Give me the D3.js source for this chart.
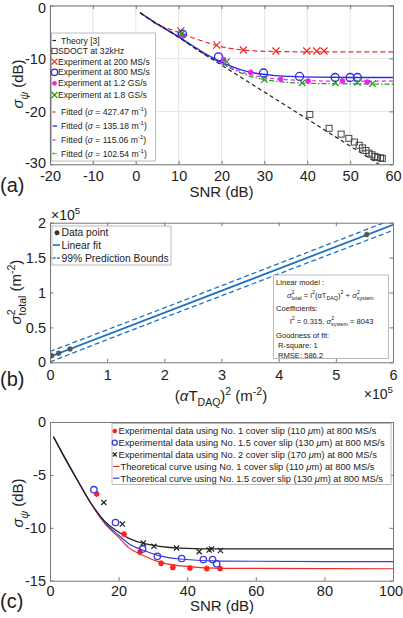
<!DOCTYPE html>
<html><head><meta charset="utf-8">
<script src="https://cdn.jsdelivr.net/npm/d3@7"></script>
<style>
body{margin:0;background:#fff}
text{font-family:"Liberation Sans",Arial,Helvetica,sans-serif;fill:#222}
</style>
</head><body><script>
// ---------------- Panel (a) data ----------------
const aXTicks = [-20,-10,0,10,20,30,40,50,60];
const aXTickLabels = ["-20","-10","0","10","20","30","40","50","60"];
const aYTicks = [0,-10,-20,-30];
const aYTickLabels = ["0","-10","-20","-30"];
const aTheorySNR = [1,3,6,10,15,20,30,40,50,58.5];
const aTheorySig = [-1.35,-2.5,-3.9,-6.0,-8.7,-11.25,-16.35,-21.45,-26.55,-30.9];
const aSdoctSNR = [40.6,45.1,47.9,49.7,51.0,52.1,52.9,53.7,54.4,55.1,55.8,56.4,57.1,57.5];
const aSdoctSig = [-20.6,-23.2,-24.3,-25.1,-25.8,-26.4,-26.9,-27.4,-27.9,-28.2,-28.5,-28.7,-28.8,-28.9];
const a200SNR = [10.5,18.9,25.1,32.7,39.9,42.2,43.9];
const a200Sig = [-4.8,-7.5,-8.4,-8.6,-8.6,-8.6,-8.6];
const a800SNR = [10.9,19.3,29.8,38.2,46.5,50.0,51.7];
const a800Sig = [-5.4,-9.7,-12.75,-13.4,-13.6,-13.6,-13.6];
const a1200SNR = [10.9,20.5,26.8,33.8,40.2,48.2,54.0];
const a1200Sig = [-5.6,-10.2,-12.6,-13.9,-14.25,-14.25,-14.45];
const a1800SNR = [10.7,21.2,30.0,38.8,46.6,51.7,55.2];
const a1800Sig = [-5.3,-10.6,-14.0,-14.6,-14.6,-14.5,-14.75];
const aFit427SNR = [4,6,8,10.5,14,17,19,22,25,30,40,60];
const aFit427Sig = [-3.2,-3.9,-4.5,-5.2,-6.3,-7.1,-7.6,-8.1,-8.4,-8.65,-8.75,-8.75];
const aFit135SNR = [1,5,10,15,18,20,22,25,28,32,36,42,50,60];
const aFit135Sig = [-1.35,-3.5,-5.9,-8.5,-9.9,-10.7,-11.4,-12.25,-12.8,-13.2,-13.4,-13.55,-13.6,-13.6];
const aFit115SNR = [1,5,10,15,20,23,26,30,35,40,50,60];
const aFit115Sig = [-1.35,-3.5,-6.0,-8.6,-10.9,-12.0,-12.9,-13.6,-14.0,-14.2,-14.3,-14.3];
const aFit102SNR = [1,5,10,15,20,23,26,30,35,40,50,60];
const aFit102Sig = [-1.35,-3.5,-6.0,-8.7,-11.0,-12.2,-13.2,-14.0,-14.5,-14.7,-14.8,-14.85];

// ---------------- Panel (b) data ----------------
const bXTicks = [0,1e5,2e5,3e5,4e5,5e5,6e5];
const bXTickLabels = ["0","1","2","3","4","5","6"];
const bYTicks = [0,0.5e5,1e5,1.5e5,2e5];
const bYTickLabels = ["0","0.5","1","1.5","2"];
const bPtX = [3000,15000,35000,554000];
const bPtY = [9500,13000,19000,183000];
const bFitX = [0,600000];
const bFitY = [8043,197000];
const bBoundX = [0,150000,300000,450000,600000];
const bUpperY = [15500,62300,109700,157300,205000];
const bLowerY = [600,48300,95300,142300,189000];

// ---------------- Panel (c) data ----------------
const cXTicks = [0,20,40,60,80,100];
const cXTickLabels = ["0","20","40","60","80","100"];
const cYTicks = [0,-5,-10,-15];
const cYTickLabels = ["0","-5","-10","-15"];
const cNo1SNR = [13.6,21.6,26.2,32.4,35.8,40.8,45.7,49.6];
const cNo1Sig = [-6.8,-10.6,-12.3,-13.35,-13.75,-13.8,-13.85,-13.85];
const cNo15SNR = [12.8,19.1,27.0,31.3,38.4,44.7,47.4,48.6];
const cNo15Sig = [-6.4,-9.5,-12.0,-12.7,-12.9,-13.0,-13.0,-13.4];
const cNo2SNR = [15.7,21.1,27.2,30.3,36.9,43.5,46.4,47.1,49.7];
const cNo2Sig = [-7.6,-9.65,-11.45,-11.75,-11.9,-12.25,-12.1,-12.0,-12.15];
const cCurveSNR = [1,4,8,12,16,20,23,27,32,38,50,100];
const cCurveBlack = [-1.4,-3.2,-5.5,-7.7,-9.4,-10.4,-11.0,-11.45,-11.75,-11.92,-12.0,-12.0];
const cCurveBlue = [-1.4,-3.2,-5.5,-7.7,-9.5,-10.7,-11.5,-12.1,-12.65,-12.95,-13.15,-13.2];
const cCurveRed = [-1.4,-3.2,-5.5,-7.75,-9.6,-10.9,-11.9,-12.6,-13.25,-13.6,-13.83,-13.87];

// ---------------- drawing ----------------
const W = 403, H = 618;
const svg = d3.select("body").append("svg").attr("width", W).attr("height", H)
  .style("background", "#fff");
const AX = "#777";

function rich(t, parts, fs) {
  let off = 0;
  parts.forEach(p => {
    const target = p.sup ? -fs * 0.42 : p.sub ? fs * 0.3 : 0;
    const ts = t.append("tspan").text(p.t).attr("dy", target - off);
    off = target;
    if (p.sup || p.sub) ts.attr("font-size", fs * 0.7);
    if (p.it) ts.attr("font-style", "italic");
    if (p.dx) ts.attr("dx", p.dx);
  });
  return t;
}

function panel(cfg) {
  const x = d3.scaleLinear().domain(cfg.xd).range([cfg.L, cfg.R]);
  const y = d3.scaleLinear().domain(cfg.yd).range([cfg.B, cfg.T]);
  const g = svg.append("g");
  if (cfg.grid) {
    g.selectAll(".gx").data(cfg.xt).enter().append("line")
      .attr("x1", d => x(d)).attr("x2", d => x(d)).attr("y1", cfg.T).attr("y2", cfg.B)
      .attr("stroke", "#e4e4e4").attr("stroke-width", 1);
    g.selectAll(".gy").data(cfg.yt).enter().append("line")
      .attr("y1", d => y(d)).attr("y2", d => y(d)).attr("x1", cfg.L).attr("x2", cfg.R)
      .attr("stroke", "#e4e4e4").attr("stroke-width", 1);
  }
  const id = "clip" + cfg.name;
  svg.append("clipPath").attr("id", id).append("rect")
    .attr("x", cfg.L).attr("y", cfg.T).attr("width", cfg.R - cfg.L).attr("height", cfg.B - cfg.T);
  const plot = svg.append("g").attr("clip-path", `url(#${id})`);
  const axes = svg.append("g");
  const fs = 14.5;
  const bx = axes.append("g").attr("transform", `translate(0,${cfg.B})`)
    .call(d3.axisBottom(x).tickValues(cfg.xt).tickFormat((d, i) => cfg.xl[i]).tickSize(-3.5).tickSizeOuter(0).tickPadding(cfg.xpad));
  const lx = axes.append("g").attr("transform", `translate(${cfg.L},0)`)
    .call(d3.axisLeft(y).tickValues(cfg.yt).tickFormat((d, i) => cfg.yl[i]).tickSize(-3.5).tickSizeOuter(0).tickPadding(4));
  axes.append("g").attr("transform", `translate(0,${cfg.T})`)
    .call(d3.axisTop(x).tickValues(cfg.xt).tickFormat("").tickSize(-3.5).tickSizeOuter(0));
  axes.append("g").attr("transform", `translate(${cfg.R},0)`)
    .call(d3.axisRight(y).tickValues(cfg.yt).tickFormat("").tickSize(-3.5).tickSizeOuter(0));
  axes.selectAll("path.domain").attr("stroke", AX);
  axes.selectAll(".tick line").attr("stroke", AX);
  axes.selectAll(".tick text").attr("font-size", fs).attr("fill", "#262626")
    .attr("font-family", '"Liberation Sans",Arial,sans-serif');
  return {x, y, plot, g, bx, lx};
}

const lineGen = (x, y, curve) => d3.line().x(d => x(d[0])).y(d => y(d[1])).curve(curve || d3.curveMonotoneX);
const zip = (a, b) => a.map((v, i) => [v, b[i]]);

function marker(sel, type, cx, cy, s, color) {
  if (type === "x") {
    sel.append("path").attr("d", `M${cx - s},${cy - s}L${cx + s},${cy + s}M${cx - s},${cy + s}L${cx + s},${cy - s}`)
      .attr("stroke", color).attr("stroke-width", 1.2).attr("fill", "none");
  } else if (type === "o") {
    sel.append("circle").attr("cx", cx).attr("cy", cy).attr("r", s).attr("stroke", color)
      .attr("stroke-width", 1.3).attr("fill", "none");
  } else if (type === "sq") {
    sel.append("rect").attr("x", cx - s).attr("y", cy - s).attr("width", 2 * s).attr("height", 2 * s)
      .attr("stroke", color).attr("stroke-width", 1).attr("fill", "none");
  } else if (type === "dot") {
    sel.append("circle").attr("cx", cx).attr("cy", cy).attr("r", s).attr("fill", color);
  } else if (type === "ast") {
    const d = s * 0.707;
    sel.append("path").attr("d", `M${cx - s},${cy}L${cx + s},${cy}M${cx},${cy - s}L${cx},${cy + s}M${cx - d},${cy - d}L${cx + d},${cy + d}M${cx - d},${cy + d}L${cx + d},${cy - d}`)
      .attr("stroke", color).attr("stroke-width", 1.5).attr("fill", "none");
  }
}
function markers(sel, xs, ys, sx, sy, type, s, color) {
  xs.forEach((v, i) => marker(sel, type, sx(v), sy(ys[i]), s, color));
}

// ================= Panel (a) =================
{
  const P = panel({name: "a", L: 50, R: 393, T: 5.5, B: 164.3, xd: [-20, 60], yd: [-30, 0],
    xt: aXTicks, xl: aXTickLabels, yt: aYTicks, yl: aYTickLabels, grid: true, xpad: 6});
  const {x, y, plot} = P;
  P.lx.selectAll(".tick text").filter(d => d === 0).attr("y", 2.5);
  P.lx.selectAll(".tick text").filter(d => d === -30).attr("y", -1.5);
  const RED = "#f02828", BLUE = "#2a2ae6", MAG = "#f020f0", GRN = "#1e9a1e";
  plot.append("path").attr("d", lineGen(x, y)(zip(aFit427SNR, aFit427Sig)))
    .attr("fill", "none").attr("stroke", RED).attr("stroke-width", 1.2).attr("stroke-dasharray", "5,3");
  plot.append("path").attr("d", lineGen(x, y)(zip(aFit102SNR, aFit102Sig)))
    .attr("fill", "none").attr("stroke", GRN).attr("stroke-width", 1.2).attr("stroke-dasharray", "5,2,1.5,2");
  plot.append("path").attr("d", lineGen(x, y)(zip(aFit115SNR, aFit115Sig)))
    .attr("fill", "none").attr("stroke", MAG).attr("stroke-width", 1.2).attr("stroke-dasharray", "4,3");
  plot.append("path").attr("d", lineGen(x, y)(zip(aFit135SNR, aFit135Sig)))
    .attr("fill", "none").attr("stroke", BLUE).attr("stroke-width", 1.3);
  plot.append("path").attr("d", lineGen(x, y)(zip(aTheorySNR, aTheorySig)))
    .attr("fill", "none").attr("stroke", "#222").attr("stroke-width", 1.2).attr("stroke-dasharray", "4,3");
  markers(plot, aSdoctSNR, aSdoctSig, x, y, "sq", 3, "#444");
  markers(plot, a200SNR, a200Sig, x, y, "x", 3.5, RED);
  markers(plot, a800SNR, a800Sig, x, y, "o", 4, BLUE);
  markers(plot, a1200SNR, a1200Sig, x, y, "dot", 2.7, MAG);
  markers(plot, a1800SNR, a1800Sig, x, y, "x", 3.2, GRN);

  // legend
  const lg = svg.append("g");
  lg.append("rect").attr("x", 51.5).attr("y", 33).attr("width", 104).attr("height", 128)
    .attr("fill", "#fff").attr("stroke", "#aaa").attr("stroke-width", 0.8);
  const ys = [40.5, 51, 61.7, 72.3, 83.3, 95, 112, 126, 140, 153.5];
  const lfs = 8.6;
  const txt = (yy, xx, parts) => rich(lg.append("text").attr("x", xx).attr("y", yy + 3).attr("font-size", lfs), parts, lfs);
  lg.append("line").attr("x1", 52.5).attr("x2", 56).attr("y1", ys[0]).attr("y2", ys[0]).attr("stroke", "#222").attr("stroke-width", 1.2);
  txt(ys[0], 61, [{t: "Theory [3]"}]);
  marker(lg, "sq", 54.5, ys[1], 2.6, "#444"); txt(ys[1], 58, [{t: "SDOCT at 32kHz"}]);
  marker(lg, "x", 54.5, ys[2], 3, RED); txt(ys[2], 58, [{t: "Experiment at 200 MS/s"}]);
  marker(lg, "o", 54.5, ys[3], 3.2, BLUE); txt(ys[3], 58, [{t: "Experiment at 800 MS/s"}]);
  marker(lg, "dot", 54.5, ys[4], 2.4, MAG); txt(ys[4], 58, [{t: "Experiment at 1.2 GS/s"}]);
  marker(lg, "x", 54.5, ys[5], 3, GRN); txt(ys[5], 58, [{t: "Experiment at 1.8 GS/s"}]);
  const fitCol = [RED, BLUE, MAG, GRN], fitDash = ["3,2", null, "3,2", "2,1,1,1"], fitVal = ["427.47", "135.18", "115.06", "102.54"];
  for (let i = 0; i < 4; i++) {
    const l = lg.append("line").attr("x1", 52.5).attr("x2", 57).attr("y1", ys[6 + i]).attr("y2", ys[6 + i])
      .attr("stroke", fitCol[i]).attr("stroke-width", 1.3);
    if (fitDash[i]) l.attr("stroke-dasharray", fitDash[i]);
    txt(ys[6 + i], 61, [{t: "Fitted ("}, {t: "σ", it: true}, {t: " = " + fitVal[i] + " m"}, {t: "-1", sup: true}, {t: ")"}]);
  }
  // labels
  svg.append("text").attr("x", 221.5).attr("y", 197).attr("text-anchor", "middle").attr("font-size", 15).text("SNR (dB)");
  rich(svg.append("text").attr("transform", "translate(23,84) rotate(-90)").attr("text-anchor", "middle").attr("font-size", 15),
    [{t: "σ", it: true}, {t: "ψ", sub: true, it: true}, {t: " (dB)"}], 15);
  svg.append("text").attr("x", 0).attr("y", 192).attr("font-size", 20).attr("font-family", '"DejaVu Sans",Verdana,sans-serif').text("(a)");
}

// ================= Panel (b) =================
{
  const P = panel({name: "b", L: 50, R: 393, T: 222.7, B: 362.3, xd: [0, 6e5], yd: [0, 2e5],
    xt: bXTicks, xl: bXTickLabels, yt: bYTicks, yl: bYTickLabels, grid: false, xpad: 7});
  const {x, y, plot} = P;
  const BL = "#1f70c0";
  plot.append("path").attr("d", lineGen(x, y)(zip(bBoundX, bUpperY)))
    .attr("fill", "none").attr("stroke", BL).attr("stroke-width", 1.3).attr("stroke-dasharray", "5,3");
  plot.append("path").attr("d", lineGen(x, y)(zip(bBoundX, bLowerY)))
    .attr("fill", "none").attr("stroke", BL).attr("stroke-width", 1.3).attr("stroke-dasharray", "5,3");
  plot.append("path").attr("d", lineGen(x, y, d3.curveLinear)(zip(bFitX, bFitY)))
    .attr("fill", "none").attr("stroke", BL).attr("stroke-width", 1.8);
  markers(plot, bPtX, bPtY, x, y, "ast", 2.8, "#555");

  // legend
  const lg = svg.append("g");
  lg.append("rect").attr("x", 52).attr("y", 226).attr("width", 119).attr("height", 39)
    .attr("fill", "#fff").attr("stroke", "#aaa").attr("stroke-width", 0.8);
  const lfs = 10.3;
  marker(lg, "ast", 57, 232.7, 2.5, "#333");
  lg.append("text").attr("x", 61.5).attr("y", 236.3).attr("font-size", lfs).text("Data point");
  lg.append("line").attr("x1", 53).attr("x2", 60).attr("y1", 245).attr("y2", 245).attr("stroke", BL).attr("stroke-width", 1.6);
  lg.append("text").attr("x", 61.5).attr("y", 248.6).attr("font-size", lfs).text("Linear fit");
  lg.append("line").attr("x1", 53).attr("x2", 60).attr("y1", 258).attr("y2", 258).attr("stroke", BL).attr("stroke-width", 1.3).attr("stroke-dasharray", "2.5,1.5");
  lg.append("text").attr("x", 61.5).attr("y", 261.8).attr("font-size", lfs).text("99% Prediction Bounds");

  // annotation box
  const an = svg.append("g");
  an.append("rect").attr("x", 273.5).attr("y", 275).attr("width", 115).attr("height", 83.5)
    .attr("fill", "#fff").attr("stroke", "#aaa").attr("stroke-width", 0.8);
  const afs = 7.6;
  const at = (xx, yy, parts) => rich(an.append("text").attr("x", xx).attr("y", yy).attr("font-size", afs), parts, afs);
  at(276, 284.5, [{t: "Linear model :"}]);
  at(287, 297.5, [{t: "σ", it: true}, {t: "2", sup: true}, {t: "total", sub: true, dx: -3}, {t: " = l"}, {t: "2", sup: true},
    {t: "(αT"}, {t: "DAQ", sub: true}, {t: ")"}, {t: "2", sup: true}, {t: " + "}, {t: "σ", it: true}, {t: "2", sup: true}, {t: "system", sub: true, dx: -3}]);
  at(276, 311, [{t: "Coefficients:"}]);
  at(290, 323.5, [{t: "l"}, {t: "2", sup: true}, {t: " = 0.315, "}, {t: "σ", it: true}, {t: "2", sup: true}, {t: "system", sub: true, dx: -3}, {t: " = 8043"}]);
  at(276, 337.5, [{t: "Goodness of fit:"}]);
  at(278, 348.3, [{t: "R-square: 1"}]);
  at(278, 357.5, [{t: "RMSE: 586.2"}]);

  // exponent labels
  rich(svg.append("text").attr("x", 51).attr("y", 220).attr("font-size", 14), [{t: "×10"}, {t: "5", sup: true}], 14);
  rich(svg.append("text").attr("x", 393).attr("y", 399).attr("text-anchor", "end").attr("font-size", 14), [{t: "×10"}, {t: "5", sup: true}], 14);
  rich(svg.append("text").attr("x", 221).attr("y", 401).attr("text-anchor", "middle").attr("font-size", 15),
    [{t: "("}, {t: "α", it: true}, {t: "T"}, {t: "DAQ", sub: true}, {t: ")"}, {t: "2", sup: true}, {t: " (m"}, {t: "-2", sup: true}, {t: ")"}], 15);
  rich(svg.append("text").attr("transform", "translate(21,292) rotate(-90)").attr("text-anchor", "middle").attr("font-size", 15),
    [{t: "σ", it: true}, {t: "2", sup: true}, {t: "total", sub: true, dx: -6}, {t: " (m"}, {t: "-2", sup: true}, {t: ")"}], 15);
  svg.append("text").attr("x", 0).attr("y", 386).attr("font-size", 20).attr("font-family", '"DejaVu Sans",Verdana,sans-serif').text("(b)");
}

// ================= Panel (c) =================
{
  const P = panel({name: "c", L: 50, R: 393, T: 422, B: 580.7, xd: [0, 100], yd: [-15, 0],
    xt: cXTicks, xl: cXTickLabels, yt: cYTicks, yl: cYTickLabels, grid: false, xpad: 5.5});
  const {x, y, plot} = P;
  P.bx.selectAll(".tick text").filter(d => d === 100).attr("x", -2.5);
  const RED = "#ee2a2a", BLUE = "#3a3ae0", BLK = "#222";
  plot.append("path").attr("d", lineGen(x, y)(zip(cCurveSNR, cCurveRed))).attr("fill", "none").attr("stroke", RED).attr("stroke-width", 1.2);
  plot.append("path").attr("d", lineGen(x, y)(zip(cCurveSNR, cCurveBlue))).attr("fill", "none").attr("stroke", BLUE).attr("stroke-width", 1.2);
  plot.append("path").attr("d", lineGen(x, y)(zip(cCurveSNR, cCurveBlack))).attr("fill", "none").attr("stroke", BLK).attr("stroke-width", 1.2);
  markers(plot, cNo1SNR, cNo1Sig, x, y, "ast", 3, "#ff2020");
  markers(plot, cNo1SNR, cNo1Sig, x, y, "dot", 1.8, "#ff2020");
  markers(plot, cNo15SNR, cNo15Sig, x, y, "o", 3.2, BLUE);
  markers(plot, cNo2SNR, cNo2Sig, x, y, "x", 2.6, BLK);

  const lg = svg.append("g");
  lg.append("rect").attr("x", 112).attr("y", 423.5).attr("width", 279).attr("height", 61)
    .attr("fill", "#fff").attr("stroke", "#aaa").attr("stroke-width", 0.8);
  const lfs = 9.3;
  const ys = [431, 442.7, 454.5, 466.5, 478.2];
  const t = (yy, xx, parts) => rich(lg.append("text").attr("x", xx).attr("y", yy + 3.3).attr("font-size", lfs), parts, lfs);
  marker(lg, "ast", 114.8, ys[0], 2.3, "#ff2020"); marker(lg, "dot", 114.8, ys[0], 1.4, "#ff2020");
  t(ys[0], 118.5, [{t: "Experimental data using No. 1 cover slip (110 "}, {t: "μ", it: true}, {t: "m) at 800 MS/s"}]);
  marker(lg, "o", 114.8, ys[1], 2.5, BLUE);
  t(ys[1], 118.5, [{t: "Experimental data using No. 1.5 cover slip (130 "}, {t: "μ", it: true}, {t: "m) at 800 MS/s"}]);
  marker(lg, "x", 114.8, ys[2], 2, BLK);
  t(ys[2], 118.5, [{t: "Experimental data using No. 2 cover slip (170 "}, {t: "μ", it: true}, {t: "m) at 800 MS/s"}]);
  lg.append("line").attr("x1", 113).attr("x2", 119.5).attr("y1", ys[3]).attr("y2", ys[3]).attr("stroke", RED).attr("stroke-width", 1.2);
  t(ys[3], 120.5, [{t: "Theoretical curve using No. 1 cover slip (110 "}, {t: "μ", it: true}, {t: "m) at 800 MS/s"}]);
  lg.append("line").attr("x1", 113).attr("x2", 119.5).attr("y1", ys[4]).attr("y2", ys[4]).attr("stroke", BLUE).attr("stroke-width", 1.2);
  t(ys[4], 120.5, [{t: "Theoretical curve using No. 1.5 cover slip (130 "}, {t: "μ", it: true}, {t: "m) at 800 MS/s"}]);

  svg.append("text").attr("x", 222).attr("y", 611).attr("text-anchor", "middle").attr("font-size", 15).text("SNR (dB)");
  rich(svg.append("text").attr("transform", "translate(23,503) rotate(-90)").attr("text-anchor", "middle").attr("font-size", 15),
    [{t: "σ", it: true}, {t: "ψ", sub: true, it: true}, {t: " (dB)"}], 15);
  svg.append("text").attr("x", 0).attr("y", 608).attr("font-size", 20).attr("font-family", '"DejaVu Sans",Verdana,sans-serif').text("(c)");
}
</script></body></html>
